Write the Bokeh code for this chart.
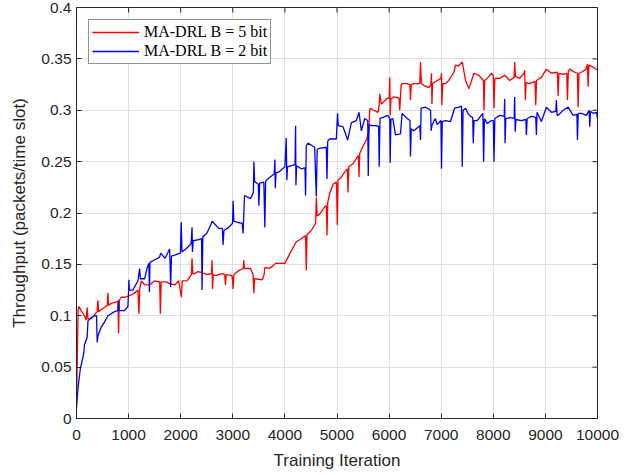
import math
from bokeh.plotting import figure
from bokeh.models import FixedTicker, Legend, LegendItem
from bokeh.embed import file_html
from bokeh.resources import INLINE

# ---- data ----
red_x = [0, 30, 50, 90, 150, 186, 205, 220, 282, 330, 397, 410, 425, 480, 538, 590, 603, 615, 667, 730,
         795, 808, 820, 859, 930, 987, 1083, 1179, 1198, 1215, 1244, 1308, 1404, 1500, 1596, 1610, 1625,
         1724, 1800, 1885, 1962, 2013, 2030, 2122, 2205, 2218, 2232, 2269, 2330, 2410, 2500, 2590, 2603,
         2610, 2625, 2667, 2795, 2845, 2859, 2875, 2987, 3006, 3020, 3115, 3200, 3211, 3225, 3340, 3390,
         3404, 3418, 3436, 3564, 3600, 3615, 3692, 3760, 3821, 3949, 4000, 4090, 4218, 4314, 4397, 4410,
         4425, 4506, 4590, 4603, 4620, 4667, 4763, 4795, 4808, 4822, 4859, 4923, 4990, 5006, 5020, 5083,
         5150, 5200, 5212, 5226, 5308, 5410, 5423, 5436, 5500, 5564, 5610, 5628, 5641, 5700, 5788, 5810,
         5820, 5853, 5949, 6000, 6013, 6020, 6035, 6090, 6190, 6205, 6230, 6250, 6346, 6400, 6410, 6425,
         6474, 6590, 6603, 6620, 6667, 6763, 6800, 6814, 6822, 6835, 6923, 6995, 7006, 7012, 7030, 7083,
         7147, 7244, 7276, 7330, 7404, 7468, 7532, 7628, 7724, 7810, 7821, 7835, 7900, 7962, 8000, 8013,
         8030, 8122, 8218, 8314, 8400, 8410, 8425, 8506, 8590, 8603, 8615, 8630, 8699, 8800, 8814, 8830,
         8923, 9019, 9115, 9230, 9244, 9260, 9340, 9410, 9423, 9440, 9468, 9560, 9615, 9628, 9645, 9692,
         9780, 9807, 9820, 9835, 9917, 10000]
red_y = [0.010, 0.105, 0.109, 0.105, 0.100, 0.096, 0.108, 0.097, 0.097, 0.100, 0.104, 0.115, 0.104, 0.106,
         0.108, 0.110, 0.122, 0.110, 0.112, 0.113, 0.114, 0.083, 0.115, 0.118, 0.118, 0.119, 0.121, 0.125,
         0.102, 0.127, 0.134, 0.130, 0.130, 0.134, 0.133, 0.102, 0.133, 0.133, 0.131, 0.130, 0.134, 0.118,
         0.134, 0.134, 0.140, 0.156, 0.141, 0.141, 0.143, 0.142, 0.140, 0.141, 0.154, 0.126, 0.140, 0.139,
         0.141, 0.140, 0.130, 0.140, 0.139, 0.126, 0.140, 0.144, 0.146, 0.154, 0.146, 0.146, 0.140, 0.122,
         0.136, 0.136, 0.135, 0.140, 0.147, 0.146, 0.148, 0.151, 0.151, 0.151, 0.160, 0.172, 0.175, 0.178,
         0.144, 0.179, 0.183, 0.190, 0.215, 0.197, 0.199, 0.206, 0.207, 0.178, 0.210, 0.219, 0.228, 0.230,
         0.188, 0.232, 0.235, 0.240, 0.243, 0.220, 0.245, 0.248, 0.256, 0.235, 0.258, 0.265, 0.271, 0.280,
         0.300, 0.302, 0.300, 0.298, 0.305, 0.316, 0.306, 0.311, 0.312, 0.332, 0.295, 0.311, 0.313, 0.312,
         0.300, 0.324, 0.326, 0.326, 0.325, 0.310, 0.325, 0.326, 0.326, 0.347, 0.326, 0.324, 0.322, 0.325,
         0.336, 0.306, 0.326, 0.329, 0.331, 0.336, 0.305, 0.326, 0.326, 0.329, 0.337, 0.344, 0.343, 0.347,
         0.329, 0.321, 0.336, 0.334, 0.329, 0.300, 0.329, 0.332, 0.336, 0.334, 0.302, 0.331, 0.331, 0.334,
         0.329, 0.332, 0.347, 0.333, 0.331, 0.336, 0.339, 0.310, 0.327, 0.326, 0.328, 0.305, 0.329, 0.332,
         0.340, 0.336, 0.337, 0.314, 0.336, 0.335, 0.336, 0.310, 0.338, 0.340, 0.337, 0.336, 0.303, 0.336,
         0.337, 0.340, 0.345, 0.323, 0.344, 0.342, 0.339]

blue_x = [0, 30, 77, 90, 141, 154, 205, 220, 280, 346, 385, 397, 410, 474, 540, 603, 731, 795, 808, 820,
          923, 987, 1000, 1006, 1015, 1083, 1179, 1212, 1225, 1308, 1359, 1390, 1400, 1410, 1487, 1596,
          1615, 1700, 1788, 1808, 1822, 1885, 1994, 2010, 2025, 2100, 2200, 2218, 2225, 2240, 2346, 2400,
          2410, 2425, 2500, 2590, 2603, 2731, 2800, 2814, 2830, 2923, 2995, 3006, 3020, 3083, 3179, 3198,
          3224, 3340, 3395, 3404, 3420, 3436, 3490, 3500, 3515, 3596, 3615, 3630, 3692, 3795, 3808, 3816,
          3830, 3885, 4000, 4025, 4038, 4050, 4122, 4195, 4205, 4212, 4225, 4314, 4385, 4397, 4410, 4442,
          4571, 4603, 4620, 4667, 4795, 4808, 4822, 4859, 4987, 5010, 5025, 5115, 5205, 5276, 5372, 5423,
          5468, 5532, 5590, 5600, 5615, 5660, 5756, 5800, 5810, 5825, 5885, 5974, 6013, 6020, 6035, 6071,
          6122, 6218, 6250, 6346, 6400, 6410, 6425, 6474, 6590, 6603, 6615, 6699, 6795, 6808, 6820, 6885,
          6923, 6995, 7006, 7020, 7083, 7179, 7256, 7340, 7390, 7404, 7420, 7468, 7513, 7564, 7605, 7615,
          7630, 7692, 7800, 7814, 7830, 7885, 7962, 8000, 8013, 8030, 8122, 8210, 8218, 8226, 8240, 8282,
          8314, 8400, 8410, 8420, 8435, 8538, 8625, 8635, 8650, 8731, 8815, 8827, 8840, 8923, 9019, 9115,
          9200, 9211, 9225, 9244, 9340, 9436, 9532, 9605, 9615, 9630, 9692, 9788, 9840, 9852, 9865, 9917,
          9980, 10000]
blue_y = [0.011, 0.030, 0.050, 0.052, 0.064, 0.072, 0.079, 0.095, 0.098, 0.100, 0.100, 0.074, 0.080, 0.089,
          0.094, 0.100, 0.104, 0.105, 0.115, 0.105, 0.105, 0.109, 0.125, 0.135, 0.125, 0.125, 0.134, 0.146,
          0.136, 0.136, 0.147, 0.151, 0.123, 0.152, 0.154, 0.157, 0.161, 0.156, 0.165, 0.128, 0.158, 0.159,
          0.161, 0.191, 0.162, 0.165, 0.170, 0.186, 0.162, 0.173, 0.174, 0.175, 0.125, 0.177, 0.180, 0.190,
          0.192, 0.185, 0.185, 0.169, 0.183, 0.186, 0.190, 0.212, 0.192, 0.191, 0.190, 0.180, 0.217, 0.214,
          0.220, 0.250, 0.230, 0.230, 0.228, 0.207, 0.229, 0.230, 0.186, 0.231, 0.234, 0.238, 0.252, 0.224,
          0.239, 0.240, 0.245, 0.273, 0.232, 0.245, 0.246, 0.247, 0.285, 0.227, 0.246, 0.243, 0.244, 0.217,
          0.265, 0.268, 0.264, 0.216, 0.262, 0.263, 0.264, 0.233, 0.270, 0.272, 0.272, 0.297, 0.285, 0.284,
          0.271, 0.288, 0.290, 0.298, 0.280, 0.292, 0.290, 0.236, 0.286, 0.285, 0.285, 0.284, 0.245, 0.292,
          0.293, 0.295, 0.292, 0.249, 0.291, 0.292, 0.276, 0.277, 0.297, 0.292, 0.290, 0.255, 0.282, 0.280,
          0.285, 0.271, 0.302, 0.303, 0.300, 0.280, 0.285, 0.292, 0.286, 0.290, 0.243, 0.289, 0.290, 0.289,
          0.302, 0.303, 0.304, 0.245, 0.300, 0.302, 0.297, 0.294, 0.293, 0.268, 0.290, 0.290, 0.297, 0.250,
          0.292, 0.287, 0.290, 0.290, 0.250, 0.292, 0.295, 0.294, 0.311, 0.268, 0.292, 0.292, 0.293, 0.292,
          0.313, 0.279, 0.291, 0.290, 0.291, 0.276, 0.292, 0.294, 0.293, 0.276, 0.298, 0.289, 0.303, 0.298,
          0.299, 0.310, 0.295, 0.295, 0.300, 0.303, 0.295, 0.296, 0.271, 0.297, 0.297, 0.295, 0.300, 0.284,
          0.299, 0.297, 0.298, 0.292]

x_ticks = [0, 1000, 2000, 3000, 4000, 5000, 6000, 7000, 8000, 9000, 10000]
x_tick_labels = ["0", "1000", "2000", "3000", "4000", "5000", "6000", "7000", "8000", "9000", "10000"]
y_ticks = [0, 0.05, 0.1, 0.15, 0.2, 0.25, 0.3, 0.35, 0.4]
y_tick_labels = ["0", "0.05", "0.1", "0.15", "0.2", "0.25", "0.3", "0.35", "0.4"]
series_names = ["MA-DRL B = 5 bit", "MA-DRL B = 2 bit"]

AX = "#262626"
TICK_FONT = "Liberation Sans"
X_MIN, X_MAX, Y_MIN, Y_MAX = 0, 10000, 0, 0.4

p = figure(width=640, height=472, x_range=(X_MIN, X_MAX), y_range=(Y_MIN, Y_MAX),
           output_backend="svg", toolbar_location=None,
           min_border_left=76, min_border_right=43, min_border_top=7, min_border_bottom=54)

p.background_fill_color = "white"
p.border_fill_color = "white"
p.outline_line_color = AX
p.outline_line_width = 1

for ax, ticks, labels in ((p.xaxis[0], x_ticks, x_tick_labels), (p.yaxis[0], y_ticks, y_tick_labels)):
    ax.ticker = FixedTicker(ticks=ticks)
    ax.major_label_overrides = {t: l for t, l in zip(ticks, labels)}
    ax.major_tick_in = 5
    ax.major_tick_out = 0
    ax.minor_tick_line_color = None
    ax.axis_line_color = AX
    ax.major_tick_line_color = AX
    ax.major_label_text_color = AX
    ax.major_label_text_font = TICK_FONT
    ax.major_label_text_font_size = "15.5px"
    ax.axis_label_text_color = AX
    ax.axis_label_text_font = TICK_FONT
    ax.axis_label_text_font_size = "17px"
    ax.axis_label_text_font_style = "normal"

p.xaxis.axis_label = "Training Iteration"
p.yaxis.axis_label = "Throughput (packets/time slot)"
p.xaxis.major_label_standoff = 11
p.xaxis.axis_label_standoff = 8
p.yaxis.major_label_standoff = 5
p.yaxis.axis_label_standoff = 9

# tick marks on the top and right edges of the box (half of each dash is clipped by the frame)
p.scatter(x=x_ticks, y=[Y_MAX] * len(x_ticks), marker="dash", angle=math.pi / 2, size=10,
          line_color=AX, line_width=1)
p.scatter(x=[X_MAX] * len(y_ticks), y=y_ticks, marker="dash", size=10,
          line_color=AX, line_width=1)

p.xgrid.ticker = FixedTicker(ticks=x_ticks)
p.ygrid.ticker = FixedTicker(ticks=y_ticks)
p.grid.grid_line_color = "#e0e0e0"
p.grid.grid_line_width = 1

r_red = p.line(red_x, red_y, line_color="#ff0000", line_width=1.3)
r_blue = p.line(blue_x, blue_y, line_color="#0000ff", line_width=1.3)

legend = Legend(items=[LegendItem(label=series_names[0], renderers=[r_red]),
                       LegendItem(label=series_names[1], renderers=[r_blue])],
                location="top_left")
legend.margin = 12
legend.padding = 3
legend.spacing = 1
legend.label_height = 16
legend.glyph_height = 16
legend.glyph_width = 47
legend.label_standoff = 5
legend.label_text_font = "Liberation Serif"
legend.label_text_font_size = "16px"
legend.label_text_color = "black"
legend.border_line_color = AX
legend.border_line_width = 1
legend.background_fill_color = "white"
legend.background_fill_alpha = 1
p.add_layout(legend)

open("out.html", "w").write(file_html(p, INLINE))
